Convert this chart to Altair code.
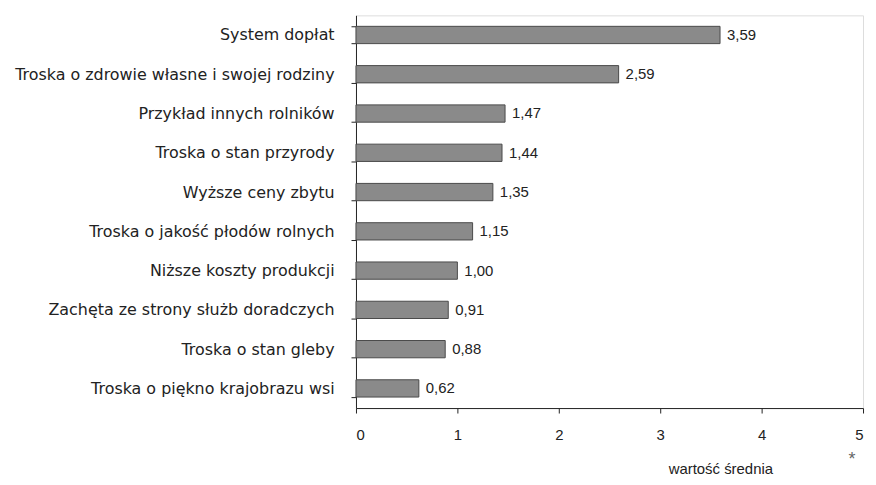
import altair as alt
import pandas as pd

categories = [
    "System dopłat",
    "Troska o zdrowie własne i swojej rodziny",
    "Przykład innych rolników",
    "Troska o stan przyrody",
    "Wyższe ceny zbytu",
    "Troska o jakość płodów rolnych",
    "Niższe koszty produkcji",
    "Zachęta ze strony służb doradczych",
    "Troska o stan gleby",
    "Troska o piękno krajobrazu wsi",
]
values = [3.59, 2.59, 1.47, 1.44, 1.35, 1.15, 1.00, 0.91, 0.88, 0.62]
x_ticks = [0, 1, 2, 3, 4, 5]

df = pd.DataFrame({
    "cat": categories,
    "val": values,
    "lab": [f"{v:.2f}".replace(".", ",") for v in values],
})

FONT = "Liberation Sans"
YFONT = "DejaVu Sans"

y_enc = alt.Y("cat:N", sort=categories, title=None,
              scale=alt.Scale(paddingInner=0.56, paddingOuter=0.28),
              axis=alt.Axis(tickBand="extent", tickSize=5, tickColor="#222",
                            domainColor="#222", labelPadding=17,
                            labelFontSize=16, labelColor="#222", labelFont=YFONT,
                            labelLimit=400))
x_enc = alt.X("val:Q", title=None,
              scale=alt.Scale(domain=[0, 5], nice=False),
              axis=alt.Axis(values=x_ticks, tickSize=5, tickColor="#222",
                            domainColor="#222", labelPadding=15, grid=False,
                            labelFontSize=15, labelColor="#222", labelFont=FONT,
                            format="d"))

bars = alt.Chart(df).mark_bar(color="#8a8a8a", stroke="#4a4a4a", strokeWidth=1).encode(
    x=x_enc, y=y_enc)

texts = alt.Chart(df).mark_text(align="left", dx=7, fontSize=15, font=FONT,
                                color="#222").encode(
    x="val:Q", y=alt.Y("cat:N", sort=categories), text="lab:N")

title = alt.Chart(pd.DataFrame({"t": ["wartość średnia"]})).mark_text(
    fontSize=15, font=FONT, color="#222", align="center").encode(
    x=alt.value(367), y=alt.value(456), text="t:N")

star = alt.Chart(pd.DataFrame({"t": ["*"]})).mark_text(
    fontSize=18, font=FONT, color="#666", align="center").encode(
    x=alt.value(499), y=alt.value(447), text="t:N")

chart = alt.layer(bars, texts, title, star).properties(
    width=510, height=395,
    autosize=alt.AutoSizeParams(type="none"),
    padding={"left": 350, "top": 6, "right": 5, "bottom": 74},
).configure_view(stroke="#222", strokeWidth=1).configure(background="white")

chart.save("out.html", embed_options={"renderer": "svg", "actions": False})
